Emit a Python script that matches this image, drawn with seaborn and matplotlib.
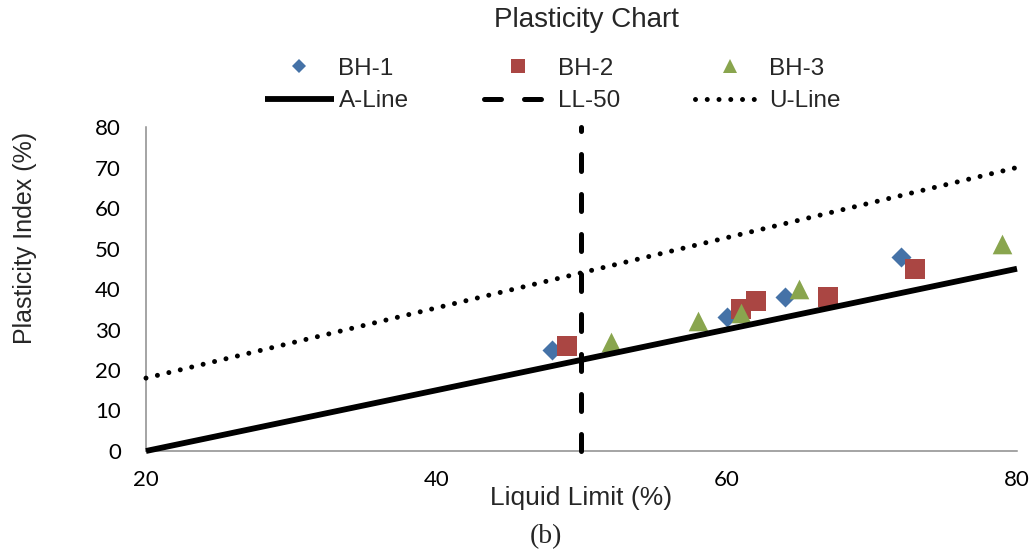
import matplotlib
matplotlib.use("Agg")
import matplotlib.pyplot as plt
from matplotlib.lines import Line2D
import seaborn as sns
import pandas as pd

# Borehole samples: liquid limit (LL) and plasticity index (PI), in %
ll_bh1 = [48, 60, 64, 72]
pi_bh1 = [25, 33, 38, 48]
ll_bh2 = [49, 61, 62, 67, 73]
pi_bh2 = [26, 35, 37, 38, 45]
ll_bh3 = [52, 58, 61, 65, 79]
pi_bh3 = [27, 32, 34, 40, 51]

# Reference lines of the plasticity chart
a_line_ll = [20, 80]
a_line_pi = [0, 45]
ll50_ll = [50, 50]
ll50_pi = [0, 80]
u_line_ll = [20, 80]
u_line_pi = [18, 70]

series_names = ["BH-1", "BH-2", "BH-3"]
x_ticks = [20, 40, 60, 80]
y_ticks = [0, 10, 20, 30, 40, 50, 60, 70, 80]

colors = {"BH-1": "#4572A7", "BH-2": "#AA4643", "BH-3": "#89A54E"}
markers = {"BH-1": "D", "BH-2": "s", "BH-3": "^"}
marker_area = {"BH-1": 104, "BH-2": 190, "BH-3": 200}

sns.set_style("white")
plt.rcParams["font.family"] = ["Liberation Sans", "DejaVu Sans"]

fig = plt.figure(figsize=(10.35, 5.56), dpi=100)
ax = fig.add_axes([0.14106, 0.18885, 0.84155, 0.58273])

df = pd.concat([
    pd.DataFrame({"LL": ll_bh1, "PI": pi_bh1, "Borehole": "BH-1"}),
    pd.DataFrame({"LL": ll_bh2, "PI": pi_bh2, "Borehole": "BH-2"}),
    pd.DataFrame({"LL": ll_bh3, "PI": pi_bh3, "Borehole": "BH-3"}),
], ignore_index=True)

for name in series_names:
    sub = df[df["Borehole"] == name]
    sns.scatterplot(data=sub, x="LL", y="PI", marker=markers[name],
                    s=marker_area[name], color=colors[name], linewidth=0,
                    ax=ax, zorder=3, clip_on=False, legend=False)

lw_line = 4.2
dash_style = dict(color="black", lw=3.6, dashes=(3.4, 4.6), dash_capstyle="round")
dot_style = dict(color="black", lw=3.6, dashes=(0.001, 2.35), dash_capstyle="round")

ax.plot(a_line_ll, a_line_pi, color="black", lw=lw_line,
        solid_capstyle="butt", zorder=4, clip_on=False)
ax.plot(ll50_ll, ll50_pi, zorder=4, clip_on=False, **dash_style)
ax.plot(u_line_ll, u_line_pi, zorder=4, clip_on=False, **dot_style)

ax.set_xlim(20, 80)
ax.set_ylim(0, 80)
ax.set_xticks(x_ticks)
ax.set_yticks(y_ticks)
tick_font = ["Lato", "DejaVu Sans"]
ax.set_xticklabels([str(v) for v in x_ticks], family=tick_font, fontsize=16)
ax.set_yticklabels([str(v) for v in y_ticks], family=tick_font, fontsize=16)

for side in ["top", "right"]:
    ax.spines[side].set_visible(False)
for side in ["left", "bottom"]:
    ax.spines[side].set_color("#8C8C8C")
    ax.spines[side].set_linewidth(1.1)
ax.tick_params(axis="both", which="major", direction="out", length=6,
               width=1.1, color="#8C8C8C", labelcolor="black")
ax.tick_params(axis="y", pad=12)
ax.tick_params(axis="x", pad=8)
ax.grid(False)

ax.set_xlabel("Liquid Limit (%)", fontsize=19)
ax.xaxis.set_label_coords(0.4994, -0.145)
ax.xaxis.label.set_va("center")
ax.set_ylabel("Plasticity Index (%)", fontsize=18)
ax.yaxis.set_label_coords(-0.1389, 0.657)
ax.yaxis.label.set_va("center")

fig.suptitle("Plasticity Chart", x=0.567, y=0.964, ha="center", va="center",
             fontsize=20)

# Legend: markers in the first row, reference lines in the second
handles = [
    Line2D([], [], ls="none", marker="D", ms=7.6, mew=0, color=colors["BH-1"]),
    Line2D([], [], color="black", lw=lw_line, solid_capstyle="butt"),
    Line2D([], [], ls="none", marker="s", ms=10, mew=0, color=colors["BH-2"]),
    Line2D([], [], **dash_style),
    Line2D([], [], ls="none", marker="^", ms=10.5, mew=0, color=colors["BH-3"]),
    Line2D([], [], **dot_style),
]
labels = ["BH-1", "A-Line", "BH-2", "LL-50", "BH-3", "U-Line"]
fig.legend(handles, labels, ncol=3, loc="center", bbox_to_anchor=(0.534, 0.847),
           frameon=False, fontsize=17.5, handlelength=2.84, handletextpad=0.2,
           columnspacing=3.1, labelspacing=0.42, borderpad=0, borderaxespad=0)

fig.text(0.527, 0.034, "(b)", ha="center", va="center", fontsize=20,
         family=["Liberation Serif", "DejaVu Serif"])

fig.savefig("out.png", dpi=100)
